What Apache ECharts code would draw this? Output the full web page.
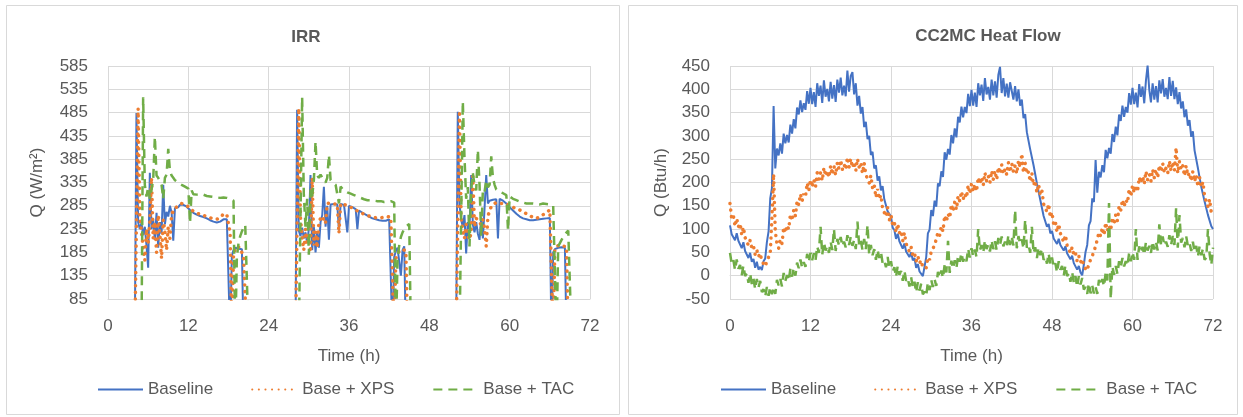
<!DOCTYPE html>
<html>
<head>
<meta charset="utf-8">
<title>IRR and CC2MC Heat Flow</title>
<script src="https://cdn.jsdelivr.net/npm/echarts@6/dist/echarts.min.js"></script>
<style>
  html, body { margin: 0; padding: 0; background: #ffffff; }
  #chart { width: 1243px; height: 417px; }
</style>
</head>
<body>
<div id="chart"></div>
<script>
// ---------- shared ----------
const seriesNames = ['Baseline', 'Base + XPS', 'Base + TAC'];
const timeTicks = [0, 12, 24, 36, 48, 60, 72];

// ---------- IRR (W/m²) ----------
// Each day is logged at quarter-hour steps, 72 samples starting at the hour below.
const irrDayStarts = [4, 28, 52];
const irrStep = 0.25;
const irrTicks = [85, 135, 185, 235, 285, 335, 385, 435, 485, 535, 585];

// rows: one hour each (h, h+.25, h+.5, h+.75)
const irrBaseline = [
  // day 1 (4 h .. 21 h)
  0, 484, 250, 235,   248, 222, 240, 200,   152, 356, 235, 255,   212, 270, 195, 250,
  225, 330, 245, 272, 262, 285, 270, 210,   280, 283, 282, 287,   291, 287, 285, 283,
  281, 276, 272, 270, 268, 266, 265, 263,   262, 261, 259, 258,   256, 254, 252, 251,
  250, 249, 250, 251, 253, 256, 258, 256,   254, 0, 178, 190,     195, 196, 193, 196,
  192, 0, 0, 0,       0, 0, 0, 0,
  // day 2 (28 h .. 45 h)
  0, 491, 232, 220,   238, 215, 228, 205,   235, 351, 190, 240,   185, 230, 195, 250,
  265, 326, 240, 285, 212, 288, 290, 289,   290, 288, 232, 289,   288, 287, 286, 228,
  285, 284, 282, 280, 278, 235, 275, 272,   270, 268, 266, 264,   262, 260, 258, 257,
  256, 255, 254, 254, 253, 254, 253, 255,   256, 254, 0, 175,     188, 195, 192, 135,
  190, 198, 0, 0,     0, 0, 0, 0,
  // day 3 (52 h .. 69 h)
  0, 487, 290, 255,   240, 265, 183, 250,   235, 351, 245, 228,   250, 225, 212, 260,
  215, 280, 351, 290, 296, 300, 298, 301,   299, 215, 300, 298,   296, 293, 290, 286,
  282, 278, 275, 272, 268, 265, 262, 260,   258, 257, 256, 255,   254, 255, 254, 253,
  255, 254, 256, 255, 257, 256, 258, 257,   259, 0, 185, 192,     196, 195, 198, 196,
  197, 195, 0, 0,     0, 0, 0, 0
];
const irrXps = [
  // day 1
  0, 0, 494, 262,     230, 195, 168, 235,   205, 250, 345, 215,   250, 185, 265, 225,
  172, 255, 230, 190, 240, 215, 265, 275,   280, 282, 285, 288,   290, 289, 287, 285,
  283, 280, 276, 273, 271, 270, 268, 267,   266, 265, 263, 262,   261, 259, 258, 257,
  256, 256, 257, 259, 263, 268, 270, 266,   262, 225, 0, 180,     192, 198, 200, 195,
  185, 175, 178, 0,   0, 0, 0, 0,
  // day 2
  0, 0, 494, 260,     215, 190, 235, 205,   225, 185, 345, 200,   230, 195, 250, 258,
  252, 260, 250, 290, 288, 291, 290, 289,   291, 288, 226, 290,   289, 288, 287, 285,
  284, 282, 280, 278, 276, 274, 272, 270,   268, 267, 265, 264,   263, 262, 261, 260,
  260, 259, 260, 259, 260, 261, 260, 262,   261, 260, 258, 0,     172, 182, 188, 190,
  192, 190, 188, 0,   0, 0, 0, 0,
  // day 3
  0, 0, 489, 262,     230, 215, 245, 222,   212, 228, 348, 240,   258, 262, 250, 244,
  255, 235, 198, 262, 275, 283, 288, 290,   292, 291, 290, 289,   290, 288, 289, 287,
  286, 284, 282, 280, 278, 277, 276, 274,   272, 270, 268, 266,   264, 262, 260, 259,
  258, 259, 261, 263, 266, 268, 271, 273,   276, 274, 0, 192,     198, 200, 201, 200,
  199, 198, 196, 0,   0, 0, 0, 0
];
const irrTac = [
  // day 1
  0, 0, 0, 0,         0, 518, 330, 305,     325, 300, 320, 340,   433, 350, 345, 338,
  330, 300, 345, 352, 407, 360, 350, 345,   340, 338, 335, 333,   330, 328, 326, 324,
  322, 248, 318, 310, 312, 309, 311, 310,   308, 309, 307, 306,   308, 305, 306, 304,
  305, 303, 304, 302, 305, 303, 304, 302,   303, 300, 298, 296,   0, 175, 205, 220,
  230, 238, 244, 248, 0, 0, 0, 0,
  // day 2
  0, 0, 0, 0,         518, 310, 240, 300,   180, 320, 305, 340,   423, 350, 345, 352,
  348, 340, 335, 345, 394, 340, 335, 332,   330, 328, 290, 326,   322, 318, 316, 314,
  312, 311, 310, 308, 306, 305, 303, 302,   300, 299, 298, 297,   296, 297, 295, 296,
  294, 295, 293, 295, 294, 293, 295, 294,   293, 295, 294, 292,   0, 170, 200, 218,
  228, 235, 240, 244, 246, 0, 0, 0,
  // day 3
  0, 0, 0, 0,         509, 390, 300, 325,   198, 320, 355, 330,   318, 405, 330, 219,
  320, 315, 340, 325, 330, 391, 345, 330,   320, 318, 315, 316,   312, 310, 308, 233,
  305, 303, 300, 298, 297, 296, 294, 293,   292, 291, 290, 291,   290, 289, 290, 288,
  289, 290, 288, 289, 290, 288, 289, 287,   288, 287, 286, 285,   0, 198, 205, 212,
  218, 224, 228, 232, 236, 0, 0, 0
];

// ---------- CC2MC heat flow (Btu/h) ----------
// Quarter-hour samples from 0 h to 72 h (289 values), 24 per row = 6 h.
const hfStep = 0.25;
const hfTicks = [-50, 0, 50, 100, 150, 200, 250, 300, 350, 400, 450];

const hfBaseline = [
  108, 89, 93, 76, 91, 75, 78, 59, 72, 53, 54, 38, 49, 30, 36, 17, 30, 13, 19, 12, 31, 37, 72, 95,
  166, 188, 364, 230, 273, 258, 284, 262, 305, 284, 302, 286, 324, 305, 336, 316, 361, 346, 376, 351, 370, 356, 396, 369,
  403, 368, 394, 362, 413, 386, 408, 371, 419, 384, 401, 374, 416, 380, 409, 373, 421, 393, 425, 387, 408, 385, 440, 395,
  429, 437, 389, 413, 365, 386, 348, 362, 319, 330, 293, 300, 259, 266, 230, 237, 204, 213, 183, 192, 164, 167, 138, 142,
  127, 103, 98, 79, 90, 74, 75, 58, 69, 52, 54, 40, 50, 33, 38, 17, 25, 9, 10, -1, -3, 40, 91, 99,
  141, 128, 161, 148, 198, 192, 224, 212, 265, 249, 272, 260, 302, 284, 316, 297, 341, 329, 363, 340, 362, 349, 390, 364,
  399, 365, 393, 362, 413, 387, 410, 375, 424, 389, 405, 378, 421, 387, 417, 382, 431, 448, 392, 424, 385, 412, 382, 415,
  418, 378, 407, 374, 400, 365, 378, 338, 347, 308, 311, 271, 275, 237, 238, 198, 197, 163, 160, 128, 129, 105, 111, 91,
  96, 80, 83, 68, 79, 66, 69, 54, 63, 48, 49, 35, 43, 27, 30, 13, 21, 7, 1, 24, 51, 66, 108, 117,
  166, 158, 248, 178, 223, 211, 237, 222, 270, 252, 274, 262, 304, 287, 320, 301, 346, 332, 365, 341, 362, 350, 392, 367,
  403, 368, 393, 361, 411, 384, 406, 370, 418, 451, 399, 372, 413, 378, 407, 372, 419, 391, 422, 384, 403, 379, 426, 386,
  418, 379, 404, 368, 394, 359, 374, 340, 357, 322, 334, 298, 310, 269, 273, 231, 229, 191, 195, 159, 160, 130, 132, 106,
  100
];
const hfXps = [
  155, 123, 129, 106, 123, 105, 112, 88, 104, 82, 85, 65, 76, 59, 64, 45, 55, 41, 48, 31, 33, 20, 31, 27,
  48, 124, 218, 96, 68, 59, 78, 69, 104, 92, 108, 100, 132, 118, 141, 128, 161, 152, 175, 160, 176, 169, 199, 183,
  206, 190, 206, 191, 221, 207, 221, 204, 232, 214, 225, 211, 236, 217, 235, 216, 243, 229, 248, 228, 239, 228, 254, 233,
  251, 232, 244, 225, 251, 233, 242, 220, 242, 217, 221, 199, 215, 188, 196, 168, 186, 164, 173, 144, 146, 127, 146, 119,
  130, 108, 114, 93, 111, 92, 97, 75, 92, 69, 71, 51, 61, 44, 49, 31, 42, 27, 33, 17, 19, 17, 39, 34,
  52, 49, 65, 62, 93, 86, 106, 95, 129, 116, 133, 124, 153, 138, 158, 142, 171, 160, 181, 164, 176, 167, 194, 176,
  197, 181, 196, 181, 211, 197, 211, 194, 221, 203, 214, 200, 225, 207, 225, 206, 233, 219, 238, 218, 229, 217, 243, 222,
  241, 223, 236, 219, 247, 232, 262, 221, 242, 218, 223, 202, 220, 194, 204, 178, 196, 174, 183, 154, 156, 137, 154, 125,
  136, 110, 116, 94, 111, 91, 95, 72, 87, 65, 68, 49, 61, 44, 49, 31, 42, 29, 36, 19, 21, 11, 26, 22,
  42, 43, 63, 61, 93, 85, 103, 87, 114, 96, 108, 97, 125, 110, 131, 118, 149, 140, 163, 148, 163, 156, 186, 170,
  193, 178, 194, 180, 211, 199, 213, 197, 224, 206, 218, 203, 228, 210, 228, 210, 237, 223, 241, 221, 231, 220, 246, 225,
  244, 226, 275, 220, 245, 227, 236, 214, 236, 214, 221, 203, 224, 202, 216, 191, 211, 190, 201, 170, 169, 148, 164, 135,
  135
];
const hfTac = [
  49, 26, 34, 12, 35, 15, 23, 1, 22, -1, 5, -15, 5, -18, -6, -29, -7, -25, -11, -35, -29, -45, -24, -43,
  -24, -40, -24, -39, -9, -21, -7, -23, 6, -11, 1, -11, 15, -2, 17, 0, 28, 16, 35, 17, 29, 19, 47, 29,
  49, 33, 48, 33, 63, 49, 105, 45, 72, 54, 64, 49, 73, 55, 100, 53, 79, 65, 83, 63, 73, 61, 87, 66,
  84, 64, 76, 57, 116, 66, 76, 55, 79, 57, 109, 45, 66, 44, 57, 34, 56, 38, 51, 27, 33, 18, 40, 16,
  31, 9, 18, -3, 21, 2, 10, -11, 11, -11, -5, -23, -3, -26, -13, -36, -14, -32, -17, -40, -34, -43, -14, -31,
  -9, -24, -8, -22, 8, -4, 11, -5, 24, 7, 75, 6, 32, 15, 33, 16, 43, 30, 49, 30, 41, 31, 58, 39,
  59, 42, 56, 40, 100, 54, 66, 49, 76, 57, 67, 52, 76, 57, 74, 55, 81, 66, 84, 63, 73, 61, 87, 66,
  84, 65, 141, 59, 85, 68, 78, 58, 120, 60, 67, 49, 105, 48, 61, 38, 61, 44, 58, 34, 41, 26, 48, 24,
  39, 18, 27, 7, 31, 13, 21, 0, 22, -1, 6, -13, 8, -15, -1, -24, -1, -19, -5, -30, -24, -39, -16, -38,
  -21, -38, -24, -39, -9, -21, -7, -23, 6, -10, 156, -50, 20, 2, 21, 4, 31, 18, 38, 20, 31, 21, 49, 31,
  51, 34, 100, 34, 63, 49, 62, 45, 72, 54, 64, 49, 74, 56, 73, 54, 110, 66, 84, 64, 73, 62, 87, 66,
  85, 66, 145, 60, 130, 71, 81, 61, 85, 64, 71, 53, 73, 51, 64, 41, 63, 44, 58, 34, 39, 100, 46, 23,
  60
];

// ---------- helpers ----------
function irrPairs(values) {
  return values.map(function (v, i) {
    const day = Math.floor(i / 72);
    return [irrDayStarts[day] + (i % 72) * irrStep, v];
  });
}
function hfPairs(values) {
  return values.map(function (v, i) { return [i * hfStep, v]; });
}

const COLORS = ['#4472C4', '#ED7D31', '#70AD47'];
const TEXT = '#595959';
const GRID_LINE = '#D9D9D9';
const FONT = '"Liberation Sans", Arial, sans-serif';

const lineStyles = [
  { color: COLORS[0], width: 2, type: 'solid' },
  { color: COLORS[1], width: 3.5, type: [0.1, 6.5], cap: 'round' },
  { color: COLORS[2], width: 2.5, type: [9, 6] }
];

function xAxisFor(gridIndex) {
  return {
    type: 'value', gridIndex: gridIndex,
    min: timeTicks[0], max: timeTicks[timeTicks.length - 1], interval: 12,
    name: 'Time (h)', nameLocation: 'middle', nameGap: 49,
    nameTextStyle: { color: TEXT, fontSize: 17, fontFamily: FONT },
    axisLine: { show: true, lineStyle: { color: GRID_LINE, width: 1 } },
    axisTick: { show: false },
    axisLabel: { color: TEXT, fontSize: 17, fontFamily: FONT, margin: 19 },
    splitLine: { show: true, lineStyle: { color: GRID_LINE, width: 1 } }
  };
}
function yAxisFor(gridIndex, ticks, title, gap) {
  return {
    type: 'value', gridIndex: gridIndex,
    min: ticks[0], max: ticks[ticks.length - 1], interval: ticks[1] - ticks[0],
    name: title, nameLocation: 'middle', nameGap: gap,
    nameTextStyle: { color: TEXT, fontSize: 17, fontFamily: FONT },
    axisLine: { show: false },
    axisTick: { show: false },
    axisLabel: { color: TEXT, fontSize: 17, fontFamily: FONT, margin: 20 },
    splitLine: { show: true, lineStyle: { color: GRID_LINE, width: 1 } }
  };
}
function lineSeries(name, idx, axisIndex, data) {
  return {
    name: name, type: 'line',
    xAxisIndex: axisIndex, yAxisIndex: axisIndex,
    data: data, showSymbol: false, symbol: 'none',
    clip: true, animation: false,
    color: COLORS[idx],
    lineStyle: lineStyles[idx]
  };
}
function legendFor(left) {
  return {
    data: seriesNames, left: left, top: 381, padding: 0,
    itemWidth: 45, itemHeight: 14, itemGap: 38,
    itemStyle: { opacity: 0, borderWidth: 0 },
    textStyle: { color: TEXT, fontSize: 17, fontFamily: FONT }
  };
}

const chart = echarts.init(document.getElementById('chart'), null, { renderer: 'canvas' });

chart.setOption({
  backgroundColor: '#ffffff',
  animation: false,
  textStyle: { fontFamily: FONT },
  grid: [
    { left: 108, top: 66, width: 482, height: 233 },
    { left: 730, top: 66, width: 483, height: 233 }
  ],
  graphic: [
    { type: 'rect', shape: { x: 6.5, y: 5.5, width: 613, height: 409 },
      style: { fill: 'none', stroke: '#D9D9D9', lineWidth: 1 }, silent: true },
    { type: 'rect', shape: { x: 628.5, y: 5.5, width: 609, height: 409 },
      style: { fill: 'none', stroke: '#D9D9D9', lineWidth: 1 }, silent: true },
    { type: 'text', x: 306, y: 37,
      style: { text: 'IRR', fill: TEXT, font: 'bold 17px ' + FONT, align: 'center', verticalAlign: 'middle' } },
    { type: 'text', x: 988, y: 36,
      style: { text: 'CC2MC Heat Flow', fill: TEXT, font: 'bold 17px ' + FONT, align: 'center', verticalAlign: 'middle' } }
  ],
  legend: [legendFor(97), legendFor(720)],
  xAxis: [xAxisFor(0), xAxisFor(1)],
  yAxis: [
    yAxisFor(0, irrTicks, 'Q (W/m²)', 62),
    yAxisFor(1, hfTicks, 'Q (Btu/h)', 60)
  ],
  series: [
    lineSeries(seriesNames[0], 0, 0, irrPairs(irrBaseline)),
    lineSeries(seriesNames[1], 1, 0, irrPairs(irrXps)),
    lineSeries(seriesNames[2], 2, 0, irrPairs(irrTac)),
    lineSeries(seriesNames[0], 0, 1, hfPairs(hfBaseline)),
    lineSeries(seriesNames[1], 1, 1, hfPairs(hfXps)),
    lineSeries(seriesNames[2], 2, 1, hfPairs(hfTac))
  ]
});
</script>
</body>
</html>
